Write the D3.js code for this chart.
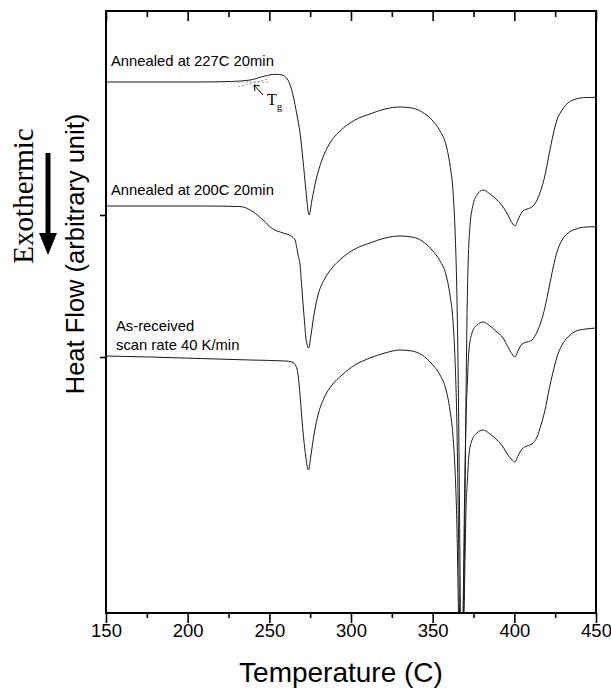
<!DOCTYPE html>
<html>
<head>
<meta charset="utf-8">
<script src="https://cdn.jsdelivr.net/npm/d3@7/dist/d3.min.js"></script>
<style>
  body { margin: 0; background: #fff; }
  svg { display: block; font-family: "Liberation Sans", Arial, sans-serif; }
</style>
</head>
<body>
<svg></svg>
<script>
const width = 611;
const height = 688;
const margin = { top: 11, right: 15, bottom: 75, left: 106 };

// ================================
// Data: temperature (C), heat flow (arbitrary units)
// ================================

const xTicks = [150, 200, 250, 300, 350, 400, 450];
const xMinorTicks = [175, 225, 275, 325, 375, 425];
const yTicks = [25.6, 39.8];

const annealed227 = [
  [150, 53.1], [176.9, 53.1], [207.6, 53.1], [225.9, 53.15], [238.2, 53.3],
  [247.3, 53.7], [253.5, 53.87], [257.8, 53.8], [261.4, 53.3], [264.5, 51.8],
  [266.9, 49.8], [268.8, 48.0], [270.6, 45.3], [272.4, 42.3], [274.3, 39.8],
  [276.1, 41.3], [278.6, 43.3], [282.2, 45.3], [287.1, 47.0], [293.3, 48.2],
  [302.4, 49.3], [311.6, 49.9], [320.8, 50.4], [330.0, 50.6], [337.3, 50.5],
  [343.5, 50.1], [349.6, 49.3], [354.5, 48.2], [358.2, 46.8], [360.6, 44.8],
  [362.4, 42.3], [363.7, 38.3], [364.9, 31.3], [365.8, 21.3], [366.4, 11.3],
  [367.0, 0.0], [368.0, -8.0], [368.9, 0.0], [369.8, 11.3], [370.4, 21.3],
  [371.0, 29.3], [371.6, 34.3], [372.9, 38.8], [374.7, 40.8], [377.1, 41.8],
  [380.8, 42.3], [385.1, 41.9], [389.4, 41.3], [393.1, 40.6], [396.1, 39.8],
  [398.6, 39.0], [400.4, 38.7], [402.2, 39.3], [404.7, 40.1], [407.8, 40.4],
  [410.8, 40.6], [413.9, 41.3], [416.3, 42.3], [418.8, 43.8], [421.2, 45.8],
  [423.7, 47.8], [426.1, 49.3], [429.2, 50.3], [432.9, 51.0], [437.8, 51.4],
  [443.9, 51.55], [450, 51.57]
];

const annealed200 = [
  [150, 40.7], [207.6, 40.7], [232.0, 40.65], [240.0, 40.13], [246.1, 39.3],
  [252.2, 38.4], [258.4, 38.0], [263.3, 37.7], [265.7, 37.3], [267.6, 35.8],
  [268.8, 34.8], [270.0, 32.3], [271.2, 29.8], [272.4, 27.5], [274.0, 26.5],
  [275.5, 27.8], [277.3, 29.8], [279.8, 31.8], [283.5, 33.3], [288.4, 34.5],
  [294.5, 35.5], [302.4, 36.4], [311.6, 37.0], [320.8, 37.5], [330.0, 37.7],
  [337.3, 37.6], [343.5, 37.2], [349.6, 36.3], [354.5, 35.2], [358.2, 33.8],
  [360.6, 31.8], [362.4, 29.3], [363.7, 25.3], [364.9, 18.3], [365.8, 8.3],
  [366.4, 0.0], [367.3, -8.0], [368.6, 0.0], [369.5, 11.3], [370.4, 19.3],
  [371.3, 23.3], [372.2, 26.3], [374.1, 28.0], [377.1, 28.8], [380.8, 29.1],
  [385.1, 28.7], [389.4, 28.1], [393.1, 27.5], [396.1, 26.6], [398.6, 25.9],
  [400.4, 25.6], [402.2, 26.2], [404.7, 26.9], [407.8, 27.1], [410.8, 27.3],
  [413.9, 28.1], [416.3, 29.1], [418.8, 30.6], [421.2, 32.5], [423.7, 34.5],
  [426.1, 36.1], [429.2, 37.3], [432.9, 38.0], [437.8, 38.4], [443.9, 38.6],
  [450, 38.63]
];

const asReceived = [
  [150, 25.7], [176.9, 25.6], [207.6, 25.45], [238.2, 25.3], [259.6, 25.2],
  [263.9, 25.1], [266.3, 24.7], [267.6, 23.8], [268.8, 21.8], [270.0, 19.3],
  [271.8, 16.3], [274.0, 14.3], [275.5, 15.8], [277.3, 17.8], [279.8, 19.8],
  [283.5, 21.5], [288.4, 22.8], [294.5, 23.8], [302.4, 24.8], [311.6, 25.5],
  [320.8, 26.0], [330.0, 26.3], [337.3, 26.2], [343.5, 25.8], [349.6, 24.9],
  [354.5, 23.8], [358.2, 22.3], [360.6, 20.3], [362.4, 17.8], [363.7, 14.3],
  [364.9, 8.3], [365.8, 0.0], [366.7, -8.0], [368.3, -2.0], [369.2, 0.0],
  [369.8, 5.3], [370.4, 10.3], [371.3, 13.3], [372.2, 15.8], [374.1, 17.3],
  [377.1, 18.0], [380.8, 18.3], [385.1, 17.9], [389.4, 17.3], [393.1, 16.6],
  [396.1, 15.8], [398.6, 15.3], [400.4, 15.1], [402.2, 15.7], [404.7, 16.4],
  [407.8, 16.7], [410.8, 16.9], [413.9, 17.6], [416.3, 18.8], [418.8, 20.3],
  [421.2, 22.3], [423.7, 24.1], [426.1, 25.6], [429.2, 26.8], [432.9, 27.6],
  [437.8, 28.2], [443.9, 28.4], [450, 28.5]
];

const curves = [annealed227, annealed200, asReceived];


// ================================
// Scales
// ================================

const svg = d3.select('svg')
  .attr('width', width)
  .attr('height', height);

const x = d3.scaleLinear()
  .domain([150, 450])
  .range([margin.left, width - margin.right]);

const y = d3.scaleLinear()
  .domain([0, 60.2])
  .range([height - margin.bottom, margin.top]);

svg.append('defs')
  .append('clipPath')
    .attr('id', 'plot')
  .append('rect')
    .attr('x', x(150))
    .attr('y', y(60.2))
    .attr('width', x(450) - x(150))
    .attr('height', y(0) - y(60.2));


// ================================
// Curves
// ================================

const line = d3.line()
  .x(d => x(d[0]))
  .y(d => y(d[1]))
  .curve(d3.curveMonotoneX);

svg.append('g')
    .attr('clip-path', 'url(#plot)')
  .selectAll('path')
  .data(curves)
  .enter()
  .append('path')
    .attr('d', line)
    .attr('fill', 'none')
    .attr('stroke', '#1a1a1a')
    .attr('stroke-width', 1);


// ================================
// Axes and frame
// ================================

const bottom = svg.append('g')
  .attr('transform', `translate(0,${y(0)})`)
  .call(d3.axisBottom(x).tickValues(xTicks).tickSize(10).tickSizeOuter(0));

bottom.selectAll('text')
  .attr('y', 24)
  .attr('dy', 0)
  .style('font-size', '18.5px')
  .style('font-family', '"Liberation Sans", Arial, sans-serif')
  .attr('fill', '#000');

svg.append('g')
  .attr('transform', `translate(0,${y(0)})`)
  .call(d3.axisBottom(x).tickValues(xMinorTicks).tickSize(5).tickFormat(''));

svg.append('g')
  .attr('transform', `translate(0,${y(60.2)})`)
  .call(d3.axisTop(x).tickValues(xTicks).tickSize(-10).tickFormat(''));

svg.append('g')
  .attr('transform', `translate(0,${y(60.2)})`)
  .call(d3.axisTop(x).tickValues(xMinorTicks).tickSize(-6).tickFormat(''));

svg.append('g')
  .attr('transform', `translate(${x(150)},0)`)
  .call(d3.axisLeft(y).tickValues(yTicks).tickSize(6).tickFormat(''));

svg.selectAll('.domain').remove();
svg.selectAll('.tick line').attr('stroke', '#000').attr('stroke-width', 1.6);

svg.append('rect')
  .attr('x', x(150))
  .attr('y', y(60.2))
  .attr('width', x(450) - x(150))
  .attr('height', y(0) - y(60.2))
  .attr('fill', 'none')
  .attr('stroke', '#000')
  .attr('stroke-width', 2);


// ================================
// Labels
// ================================

const labels = [
  { text: 'Annealed at 227C 20min', x: 111, y: 66 },
  { text: 'Annealed at 200C 20min', x: 111, y: 195 },
  { text: 'As-received', x: 116, y: 331 },
  { text: 'scan rate 40 K/min', x: 116, y: 350 }
];

svg.selectAll('.curve-label')
  .data(labels)
  .enter()
  .append('text')
    .attr('class', 'curve-label')
    .attr('x', d => d.x)
    .attr('y', d => d.y)
    .style('font-size', '14.8px')
    .text(d => d.text);

// Tg annotation
svg.append('line')
  .attr('x1', x(225.9)).attr('y1', y(53.1))
  .attr('x2', x(249.2)).attr('y2', y(53.1))
  .attr('stroke', '#999')
  .attr('stroke-dasharray', '2,2');

svg.append('line')
  .attr('x1', x(230.8)).attr('y1', y(52.6))
  .attr('x2', x(249.2)).attr('y2', y(53.4))
  .attr('stroke', '#999')
  .attr('stroke-dasharray', '2,2');

svg.append('line')
  .attr('x1', x(246.1)).attr('y1', y(51.8))
  .attr('x2', x(240.6)).attr('y2', y(52.8))
  .attr('stroke', '#000')
  .attr('stroke-width', 1);

svg.append('path')
  .attr('d', `M${x(240.6) + 6},${y(52.8) + 1} L${x(240.6)},${y(52.8)} L${x(240.6) + 1},${y(52.8) + 6}`)
  .attr('fill', 'none')
  .attr('stroke', '#000')
  .attr('stroke-width', 1);

const tg = svg.append('text')
  .attr('x', 267)
  .attr('y', 105)
  .style('font-family', '"Liberation Serif", "Times New Roman", serif')
  .style('font-size', '16px');
tg.append('tspan').text('T');
tg.append('tspan')
  .attr('dy', 5)
  .style('font-size', '11px')
  .text('g');

// Axis titles
svg.append('text')
  .attr('x', 341)
  .attr('y', 682)
  .attr('text-anchor', 'middle')
  .style('font-size', '28px')
  .text('Temperature (C)');

svg.append('text')
  .attr('transform', 'translate(84,254) rotate(-90)')
  .attr('text-anchor', 'middle')
  .style('font-size', '25.5px')
  .text('Heat Flow (arbitrary unit)');

svg.append('text')
  .attr('transform', 'translate(33,196) rotate(-90)')
  .attr('text-anchor', 'middle')
  .style('font-family', '"Liberation Serif", "Times New Roman", serif')
  .style('font-size', '29px')
  .text('Exothermic');

// Exothermic arrow
svg.append('path')
  .attr('d', 'M45.5,153 L50.5,153 L50.5,233 L57,233 L48,255 L39,233 L45.5,233 Z')
  .attr('fill', '#000');
</script>
</body>
</html>
